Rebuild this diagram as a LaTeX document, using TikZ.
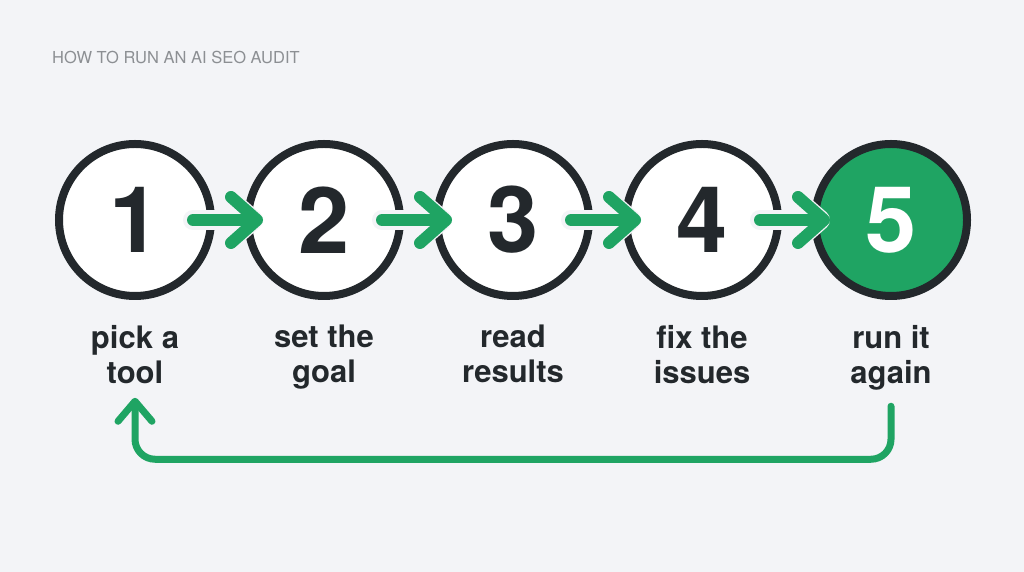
\documentclass[tikz,border=0pt]{standalone}
\usepackage{fontspec}
\setmainfont{TeX Gyre Heros}
\usetikzlibrary{positioning,arrows.meta}
\definecolor{paper}{HTML}{F3F4F7}
\definecolor{ink}{HTML}{23282C}
\definecolor{leaf}{HTML}{1FA463}
\definecolor{muted}{HTML}{8C8F93}
\tikzset{
  stepnode/.style={circle, draw=ink, line width=8pt, fill=white, minimum size=152pt,
    inner sep=0pt, text=ink, font=\fontsize{92}{92}\selectfont\bfseries},
  donenode/.style={stepnode, fill=leaf, text=white},
  caption/.style={align=center, inner sep=0pt, text=ink,
    font=\fontsize{31}{35}\selectfont\bfseries},
  halo/.style={draw=paper, line width=20pt, line cap=round,
    -{Straight Barb[length=26pt,width=46pt,round]}},
  nextarrow/.style={draw=leaf, line width=12pt, line cap=round,
    -{Straight Barb[length=26pt,width=46pt,round]}},
  backarrow/.style={draw=leaf, line width=7pt, line cap=round, rounded corners=20pt,
    -{Straight Barb[length=20pt,width=34pt,round]}}
}

\begin{document}
\begin{tikzpicture}[x=1pt,y=1pt]

  % Canvas
  \fill[paper] (0,0) rectangle (1024,572);
  \useasboundingbox (0,0) rectangle (1024,572);

  % Title
  \node[anchor=base west, text=muted, inner sep=0pt,
    font=\fontsize{16.5}{16.5}\selectfont] (title) at (52,508) {HOW TO RUN AN AI SEO AUDIT};

  % Steps
  \node[stepnode]                    (s1) at (135,352) {1};
  \node[stepnode, right=29pt of s1]  (s2) {2};
  \node[stepnode, right=29pt of s2]  (s3) {3};
  \node[stepnode, right=29pt of s3]  (s4) {4};
  \node[donenode, right=29pt of s4]  (s5) {5};

  % Captions
  \node[caption, below=25pt of s1] (l1) {pick a\\tool};
  \node[caption, below=25pt of s2] (l2) {set the\\goal};
  \node[caption, below=25pt of s3] (l3) {read\\results};
  \node[caption, below=25pt of s4] (l4) {fix the\\issues};
  \node[caption, below=25pt of s5] (l5) {run it\\again};

  % Arrows between steps
  \foreach \a/\b in {s1/s2,s2/s3,s3/s4,s4/s5} {
    \draw[halo] ([xshift=-22pt]\a.east) -- ([xshift=19pt]\b.west);
    \draw[nextarrow] ([xshift=-22pt]\a.east) -- ([xshift=19pt]\b.west);
  }

  % Loop back
  \coordinate[below=16pt of l5.south] (from);
  \coordinate[below=14pt of l1.south] (to);
  \draw[backarrow] (from) -- ++(0,-53) -| (to);

\end{tikzpicture}
\end{document}
